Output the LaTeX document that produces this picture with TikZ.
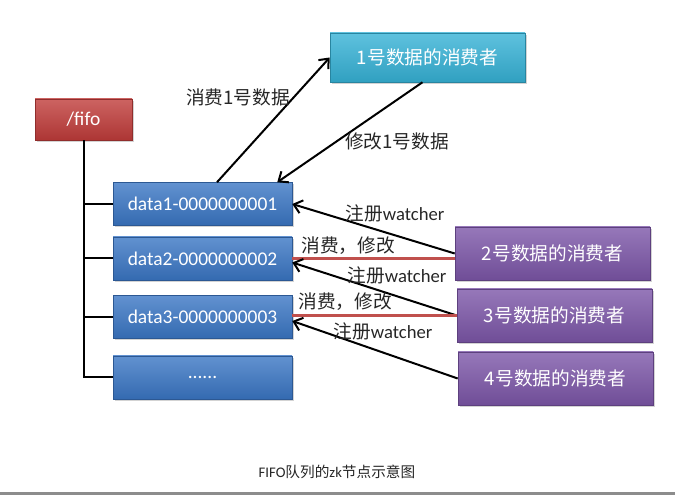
\documentclass[tikz,border=0pt]{standalone}
\usepackage{fontspec}
\setmainfont{Carlito}
\newfontfamily\cjk{Noto Sans CJK SC}
\usetikzlibrary{arrows.meta,calc,shadows}
\definecolor{fred}{RGB}{192,60,58}
\definecolor{fblue}{RGB}{58,118,196}
\definecolor{fcyan}{RGB}{54,178,214}
\definecolor{fpurple}{RGB}{124,86,168}
\definecolor{fline}{RGB}{192,80,77}
\begin{document}
\begin{tikzpicture}[x=0.75pt,y=-0.75pt,
    box/.style={draw=#1!75!black, line width=0.4pt, top color=#1!80!white,
      bottom color=#1!90!black, text=white, inner sep=0pt,
      font=\fontsize{14}{16}\selectfont,
      drop shadow={opacity=0.35, shadow xshift=1.5pt, shadow yshift=-1.5pt}},
    databox/.style={box=fblue, minimum width=134.25pt, minimum height=32.25pt,
      font=\fontsize{14.6}{16}\selectfont},
    userbox/.style={box=#1, minimum width=146.25pt, minimum height=39.75pt},
    tree/.style={line width=1.5pt},
    arr/.style={line width=1.5pt, -{Straight Barb[length=6pt,width=10pt]}},
    use/.style={line width=2pt, color=fline},
    lbl/.style={text=black!85, font=\fontsize{14}{16}\selectfont}]

    \useasboundingbox (0,0) rectangle (675,495);

    \node[box=fred, minimum width=72.75pt, minimum height=30.75pt,
      font=\fontsize{14.6}{16}\selectfont] (fifo) at (83.5,119.5) {/fifo};
    \node[databox] (d1) at (202.5,204) {data1-0000000001};
    \node[databox] (d2) at (202.5,258.5) {data2-0000000002};
    \node[databox] (d3) at (202.5,317) {data3-0000000003};
    \node[databox] (dots) at (202.5,377.5) {......};

    \node[userbox=fcyan, minimum height=36.75pt] (c1) at (427.5,57.5) {\cjk 1号数据的消费者};
    \node[userbox=fpurple] (c2) at (552.5,253.5) {\cjk 2号数据的消费者};
    \node[userbox=fpurple] (c3) at (554.5,315.5) {\cjk 3号数据的消费者};
    \node[userbox=fpurple] (c4) at (555.5,378.5) {\cjk 4号数据的消费者};

    % tree
    \draw[tree] (fifo.south) |- (dots.west);
    \foreach \n in {d1,d2,d3}
    \draw[tree] (fifo.south |- \n.west) -- (\n.west);

    % consumers
    \draw[arr] ($(d1.north)+(14.5,0)$) -- (c1.west);
    \draw[arr] ($(c1.south)+(-5,0)$) -- ($(d1.north east)+(-15,0)$);
    \draw[arr] (c2.west) -- (d1.east);
    \draw[use] (c2.west |- d2.east) -- (d2.east);
    \draw[arr] (c3.west) -- ($(d2.east)+(0,4)$);
    \draw[use] (c3.west) -- (c3.west -| d3.east);
    \draw[arr] (c4.west) -- ($(d3.east)+(0,4)$);

    \node[lbl] (l1) at (238,97) {\cjk 消费1号数据};
    \node[lbl] (l2) at (397,141) {\cjk 修改1号数据};
    \node[lbl] (w1) at (395,213) {{\cjk 注册}watcher};
    \node[lbl] (m1) at (348,246) {\cjk 消费，修改};
    \node[lbl] (w2) at (397,275) {{\cjk 注册}watcher};
    \node[lbl] (m2) at (345,302) {\cjk 消费，修改};
    \node[lbl] (w3) at (383,331) {{\cjk 注册}watcher};

    \node[text=black!85, font=\fontsize{11}{13}\selectfont] (cap) at (337,472) {FIFO{\cjk 队列的}zk{\cjk 节点示意图}};
    \draw[line width=2pt, black!45] (0,493.5) -- (675,493.5);

\end{tikzpicture}
\end{document}
